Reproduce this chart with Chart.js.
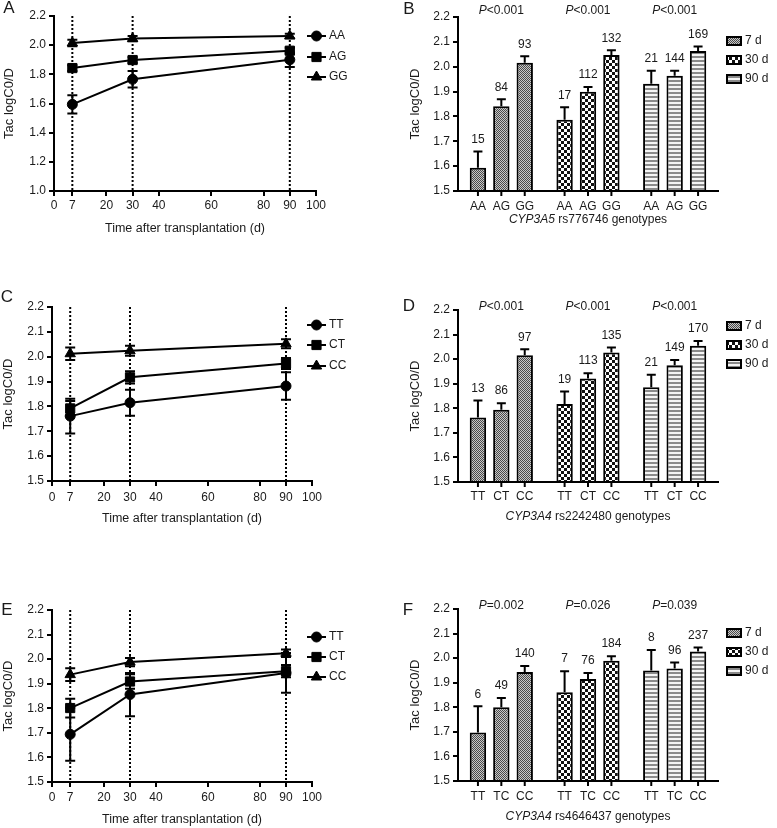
<!DOCTYPE html>
<html><head><meta charset="utf-8">
<script src="https://cdn.jsdelivr.net/npm/chart.js@4.4.1/dist/chart.umd.min.js"></script>
<style>
body{margin:0;background:#fff;width:777px;height:828px;position:relative;overflow:hidden}
canvas{position:absolute}
</style></head><body>
<canvas id="pA"></canvas><canvas id="pB"></canvas>
<canvas id="pC"></canvas><canvas id="pD"></canvas>
<canvas id="pE"></canvas><canvas id="pF"></canvas>
<script>
// ── DATOS ──
const days = [7, 30, 90];
const xTicks = [0, 7, 20, 30, 40, 60, 80, 90, 100];
const times = ['7 d', '30 d', '90 d'];

// A / B : CYP3A5 rs776746
const gtAB = ['AA', 'AG', 'GG'];
const aAA = [1.594, 1.766, 1.900], aAAe = [0.063, 0.057, 0.050];
const aAG = [1.843, 1.898, 1.962], aAGe = [0.020, 0.020, 0.020];
const aGG = [2.015, 2.045, 2.063], aGGe = [0.022, 0.018, 0.015];
const bAA = [1.594, 1.787, 1.931], bAAe = [0.065, 0.050, 0.053];
const bAG = [1.841, 1.899, 1.964], bAGe = [0.028, 0.019, 0.020];
const bGG = [2.016, 2.047, 2.063], bGGe = [0.026, 0.019, 0.018];
const nB = [[15, 17, 21], [84, 112, 144], [93, 132, 169]];
const pB = ['<0.001', '<0.001', '<0.001'];

// C / D : CYP3A4 rs2242480
const gtCD = ['TT', 'CT', 'CC'];
const cTT = [1.761, 1.815, 1.882], cTTe = [0.070, 0.052, 0.055];
const cCT = [1.792, 1.917, 1.973], cCTe = [0.030, 0.025, 0.022];
const cCC = [2.012, 2.024, 2.052], cCCe = [0.025, 0.020, 0.018];
const dTT = [1.763, 1.817, 1.886], dTTe = [0.069, 0.051, 0.050];
const dCT = [1.794, 1.921, 1.975], dCTe = [0.027, 0.022, 0.022];
const dCC = [2.016, 2.027, 2.055], dCCe = [0.024, 0.020, 0.019];
const nD = [[13, 19, 21], [86, 113, 149], [97, 135, 170]];
const pD = ['<0.001', '<0.001', '<0.001'];

// E / F : CYP3A4 rs4646437
const gtE = ['TT', 'CT', 'CC'];
const gtF = ['TT', 'TC', 'CC'];
const eTT = [1.694, 1.856, 1.944], eTTe = [0.108, 0.088, 0.081];
const eCT = [1.801, 1.909, 1.951], eCTe = [0.038, 0.030, 0.025];
const eCC = [1.937, 1.988, 2.024], eCCe = [0.026, 0.017, 0.015];
const fTT = [1.697, 1.861, 1.950], fTTe = [0.107, 0.086, 0.083];
const fTC = [1.800, 1.915, 1.958], fTCe = [0.038, 0.025, 0.024];
const fCC = [1.944, 1.989, 2.027], fCCe = [0.024, 0.019, 0.016];
const nF = [[6, 7, 8], [49, 76, 96], [140, 184, 237]];
const pF = ['=0.002', '=0.026', '=0.039'];

// ── ESTILO ──
const FONT = "'Liberation Sans', Arial, sans-serif";
Chart.defaults.font.family = FONT;
Chart.defaults.font.size = 12;
Chart.defaults.color = '#1a1a1a';
const INK = '#1a1a1a';
const markers = ['circle', 'rect', 'triangle'], markerR = [5, 6.5, 6];

function makePattern(k) {
  const t = document.createElement('canvas'), g = t.getContext('2d');
  if (k === 0) { t.width = t.height = 2; g.fillStyle = '#c8c8c8'; g.fillRect(0,0,2,2); g.fillStyle = '#4a4a4a'; g.fillRect(0,0,1,1); g.fillRect(1,1,1,1); }
  else if (k === 1) { t.width = t.height = 6; g.fillStyle = '#fff'; g.fillRect(0,0,6,6); g.fillStyle = '#111'; g.fillRect(0,0,3,3); g.fillRect(3,3,3,3); }
  else { t.width = 1; t.height = 4; g.fillStyle = '#f4f4f4'; g.fillRect(0,0,1,4); g.fillStyle = '#8a8a8a'; g.fillRect(0,0,1,2); }
  return t.getContext('2d').createPattern(t, 'repeat');
}
const pats = [0, 1, 2].map(makePattern);

function place(id, b) {
  const c = document.getElementById(id);
  c.width = b.w; c.height = b.h;
  c.style.left = b.x + 'px'; c.style.top = b.y + 'px';
  c.style.width = b.w + 'px'; c.style.height = b.h + 'px';
  return c;
}

function yAxis(b, min, max, step) {
  return { min, max,
    ticks: { stepSize: step, callback: v => (+v).toFixed(1), padding: 3 },
    grid: { drawOnChartArea: false, tickLength: 5, color: '#000', lineWidth: 2 },
    border: { color: '#000', width: 2 },
    title: { display: true, text: 'Tac logC0/D', font: { size: 13 }, padding: { top: b.yt, bottom: 0 } },
    afterFit: s => { s.width = b.L - b.x; } };
}

function letter(ctx, b) {
  ctx.save(); ctx.fillStyle = INK; ctx.font = '17px ' + FONT;
  ctx.textAlign = 'center'; ctx.textBaseline = 'middle';
  ctx.fillText(b.letter, b.lx - b.x, b.ly - b.y); ctx.restore();
}

// texto con una parte en cursiva (gen, P)
function mixedText(ctx, ital, rest, cx, cy) {
  ctx.font = 'italic 12px ' + FONT; const w1 = ctx.measureText(ital).width;
  ctx.font = '12px ' + FONT; const w2 = ctx.measureText(rest).width;
  const x0 = cx - (w1 + w2) / 2;
  ctx.textAlign = 'left'; ctx.textBaseline = 'middle';
  ctx.font = 'italic 12px ' + FONT; ctx.fillText(ital, x0, cy);
  ctx.font = '12px ' + FONT; ctx.fillText(rest, x0 + w1, cy);
}

function lineChart(id, b, gts, vals, errs, ymin, ystep) {
  const c = place(id, b);
  const deco = {
    id: 'deco',
    beforeDatasetsDraw(ch) {
      const { ctx, chartArea: a, scales: { x } } = ch;
      ctx.save(); ctx.strokeStyle = '#000'; ctx.lineWidth = 2; ctx.setLineDash([2, 2]);
      days.forEach(d => { const px = x.getPixelForValue(d); ctx.beginPath(); ctx.moveTo(px, a.top); ctx.lineTo(px, a.bottom); ctx.stroke(); });
      ctx.restore();
    },
    afterDatasetsDraw(ch) {
      const { ctx, scales: { y } } = ch;
      ctx.save(); ctx.strokeStyle = '#000'; ctx.lineWidth = 2;
      ch.data.datasets.forEach((ds, i) => {
        ch.getDatasetMeta(i).data.forEach((pt, k) => {
          const v = ds.data[k].y, e = ds.errors[k];
          const y1 = y.getPixelForValue(v + e), y2 = y.getPixelForValue(v - e);
          ctx.beginPath(); ctx.moveTo(pt.x, y1); ctx.lineTo(pt.x, y2);
          ctx.moveTo(pt.x - 5, y1); ctx.lineTo(pt.x + 5, y1);
          ctx.moveTo(pt.x - 5, y2); ctx.lineTo(pt.x + 5, y2); ctx.stroke();
        });
      });
      ctx.restore();
    },
    afterDraw(ch) {
      const ctx = ch.ctx;
      ctx.save(); ctx.strokeStyle = '#000'; ctx.fillStyle = '#000'; ctx.lineWidth = 2;
      gts.forEach((g, i) => {
        const ly = b.leg[i] - b.y, lx = 307 - b.x;
        ctx.beginPath(); ctx.moveTo(lx, ly); ctx.lineTo(lx + 19, ly); ctx.stroke();
        ctx.lineWidth = 1;
        Chart.helpers.drawPoint(ctx, { pointStyle: markers[i], radius: markerR[i], rotation: 0, borderWidth: 1 }, lx + 9.5, ly);
        ctx.lineWidth = 2;
        ctx.fillStyle = INK; ctx.font = '12px ' + FONT; ctx.textAlign = 'left'; ctx.textBaseline = 'middle';
        ctx.fillText(g, lx + 22, ly); ctx.fillStyle = '#000';
      });
      ctx.restore();
      letter(ctx, b);
    }
  };
  return new Chart(c, {
    type: 'line',
    data: { datasets: gts.map((g, i) => ({
      label: g, data: days.map((d, k) => ({ x: d, y: vals[i][k] })), errors: errs[i],
      borderColor: '#000', backgroundColor: '#000', borderWidth: 2, tension: 0,
      pointStyle: markers[i], pointRadius: markerR[i], pointBorderWidth: 1 })) },
    options: {
      responsive: false, animation: false, devicePixelRatio: 1,
      layout: { padding: { left: 0, top: b.T - b.y, right: b.x + b.w - b.R, bottom: 0 } },
      plugins: { legend: { display: false }, tooltip: { enabled: false } },
      scales: {
        x: { type: 'linear', min: 0, max: 100,
          afterBuildTicks: s => { s.ticks = xTicks.map(v => ({ value: v })); },
          ticks: { autoSkip: false, maxRotation: 0, padding: b.tp },
          grid: { drawOnChartArea: false, tickLength: 5, color: '#000', lineWidth: 2 },
          border: { color: '#000', width: 2 },
          title: { display: true, text: 'Time after transplantation (d)', font: { size: 12.5 }, padding: { top: 0, bottom: b.tb } },
          afterFit: s => { s.height = b.y + b.h - b.B; } },
        y: yAxis(b, ymin, 2.2, ystep)
      }
    },
    plugins: [deco]
  });
}

function barChart(id, b, gts, vals, errs, ns, ps, gene, rest) {
  const c = place(id, b);
  const deco = {
    id: 'deco',
    afterDatasetsDraw(ch) {
      const { ctx, scales: { y } } = ch;
      ctx.save(); ctx.strokeStyle = '#000'; ctx.lineWidth = 2;
      ctx.font = '12px ' + FONT; ctx.textAlign = 'center'; ctx.textBaseline = 'middle';
      ch.data.datasets.forEach((ds, i) => {
        ch.getDatasetMeta(i).data.forEach((bar, k) => {
          const yt = y.getPixelForValue(ds.data[k] + ds.errors[k]);
          ctx.beginPath(); ctx.moveTo(bar.x, bar.y); ctx.lineTo(bar.x, yt);
          ctx.moveTo(bar.x - 4.5, yt); ctx.lineTo(bar.x + 4.5, yt); ctx.stroke();
          ctx.fillStyle = INK; ctx.fillText(String(ds.n[k]), bar.x, yt - 12);
        });
      });
      ctx.restore();
    },
    afterDraw(ch) {
      const { ctx, chartArea: a, scales: { x } } = ch;
      ctx.save(); ctx.strokeStyle = '#000'; ctx.lineWidth = 2; ctx.fillStyle = INK;
      ctx.font = '12px ' + FONT; ctx.textAlign = 'center'; ctx.textBaseline = 'middle';
      ch.data.datasets.forEach((ds, i) => {
        ch.getDatasetMeta(i).data.forEach(bar => {
          ctx.beginPath(); ctx.moveTo(bar.x, a.bottom); ctx.lineTo(bar.x, a.bottom + 5); ctx.stroke();
          ctx.fillText(ds.label, bar.x, b.tickY - b.y);
        });
      });
      mixedText(ctx, gene, rest, (a.left + a.right) / 2, b.titleY - b.y);
      ps.forEach((p, k) => mixedText(ctx, 'P', p, x.getPixelForValue(k), b.pY - b.y));
      // leyenda de tiempos
      times.forEach((t, k) => {
        const ly = b.leg[k] - b.y, lx = 727 - b.x;
        ctx.fillStyle = pats[k]; ctx.fillRect(lx, ly - 4, 14, 8);
        ctx.strokeStyle = '#000'; ctx.lineWidth = 2; ctx.strokeRect(lx, ly - 4, 14, 8);
        ctx.fillStyle = INK; ctx.font = '12px ' + FONT; ctx.textAlign = 'left';
        ctx.fillText(t, lx + 18, ly);
      });
      ctx.restore();
      letter(ctx, b);
    }
  };
  return new Chart(c, {
    type: 'bar',
    data: { labels: times, datasets: gts.map((g, i) => ({
      label: g, data: vals[i], errors: errs[i], n: ns[i],
      backgroundColor: pats, borderColor: '#000', borderWidth: 2, base: 1.5,
      categoryPercentage: 0.81, barPercentage: 0.7 })) },
    options: {
      responsive: false, animation: false, devicePixelRatio: 1,
      layout: { padding: { left: 0, top: b.T - b.y, right: b.x + b.w - b.R, bottom: 0 } },
      plugins: { legend: { display: false }, tooltip: { enabled: false } },
      scales: {
        x: { ticks: { display: false }, grid: { display: false },
          border: { color: '#000', width: 2 },
          afterFit: s => { s.height = b.y + b.h - b.B; } },
        y: yAxis(b, 1.5, 2.2, 0.1)
      }
    },
    plugins: [deco]
  });
}

// ── PANELES ──
lineChart('pA', { x: 0, y: 0, w: 390, h: 240, L: 54, T: 16, R: 316, B: 191, yt: 1.5, tp: 2, tb: 4,
  leg: [36, 57, 77], letter: 'A', lx: 9, ly: 8 },
  gtAB, [aAA, aAG, aGG], [aAAe, aAGe, aGGe], 1.0, 0.2);

barChart('pB', { x: 390, y: 0, w: 387, h: 240, L: 458, T: 17, R: 718, B: 191, yt: 17.5,
  tickY: 207, titleY: 220, pY: 11, leg: [41, 60, 79], letter: 'B', lx: 409, ly: 9 },
  gtAB, [bAA, bAG, bGG], [bAAe, bAGe, bGGe], nB, pB, 'CYP3A5', ' rs776746 genotypes');

lineChart('pC', { x: 0, y: 270, w: 390, h: 260, L: 52, T: 307, R: 312, B: 481, yt: 1, tp: 4, tb: 4,
  leg: [325, 345, 366], letter: 'C', lx: 7, ly: 297 },
  gtCD, [cTT, cCT, cCC], [cTTe, cCTe, cCCe], 1.5, 0.1);

barChart('pD', { x: 390, y: 270, w: 387, h: 260, L: 458, T: 310, R: 718, B: 482, yt: 17.5,
  tickY: 497, titleY: 517, pY: 307, leg: [326, 345, 364], letter: 'D', lx: 409, ly: 306 },
  gtCD, [dTT, dCT, dCC], [dTTe, dCTe, dCCe], nD, pD, 'CYP3A4', ' rs2242480 genotypes');

lineChart('pE', { x: 0, y: 548, w: 390, h: 280, L: 52, T: 610, R: 312, B: 782, yt: 1, tp: 3, tb: 1,
  leg: [637, 657, 677], letter: 'E', lx: 7, ly: 610 },
  gtE, [eTT, eCT, eCC], [eTTe, eCTe, eCCe], 1.5, 0.1);

barChart('pF', { x: 390, y: 548, w: 387, h: 280, L: 458, T: 609, R: 718, B: 781, yt: 17.5,
  tickY: 797, titleY: 817, pY: 606, leg: [633, 652, 671], letter: 'F', lx: 408, ly: 610 },
  gtF, [fTT, fTC, fCC], [fTTe, fTCe, fCCe], nF, pF, 'CYP3A4', ' rs4646437 genotypes');
</script>
</body></html>
